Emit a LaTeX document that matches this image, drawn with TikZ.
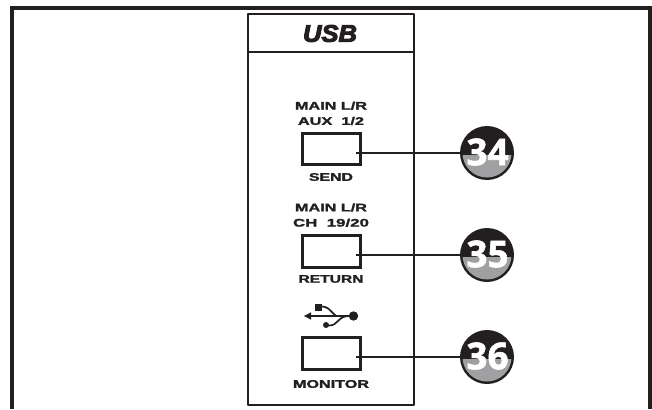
\documentclass[tikz,border=0pt]{standalone}
\usepackage{fontspec}
\setmainfont{Liberation Sans}[BoldFeatures={FakeBold=1.6}]
\newfontfamily\usbfont{Liberation Sans Bold Italic}[FakeBold=4]
\newfontfamily\numfont{Open Sans Bold}[FakeBold=1.5]
\definecolor{ink}{HTML}{231F20}
\definecolor{halfgray}{HTML}{A0A0A2}
\tikzset{
  x=1pt,y=-1pt,
  framepath/.style={draw=ink,line width=3.8pt},
  panelpath/.style={draw=ink,line width=2.2pt,line join=round},
  btn/.style={draw=ink,line width=2.6pt,minimum width=57.5pt,minimum height=31.5pt,inner sep=0pt,rectangle},
  leader/.style={draw=ink,line width=1.8pt},
  lbl/.style={inner sep=0pt,text=ink,font=\fontsize{11}{12}\selectfont\bfseries},
  badge/.style={circle,minimum size=54pt,inner sep=0pt},
  badgetext/.style={inner sep=0pt,text=white,font=\fontsize{37}{37}\selectfont\numfont},
  usbline/.style={draw=ink,line width=1.7pt},
}
\newcommand{\lblw}[2]{\resizebox{#1pt}{\height}{#2}}
\newcommand{\badgeat}[3]{%
  \node[badge,fill=ink] (#1) at (#2) {};
  \begin{scope}
    \clip (#2) circle (24.5);
    \fill[halfgray] ([shift={(-30,2)}]#2) rectangle ([shift={(30,30)}]#2);
  \end{scope}
  \node[badgetext] (#1t) at ([shift={(0.5,-1)}]#2) {#3};
}
\begin{document}
\begin{tikzpicture}
\useasboundingbox (0,0) rectangle (652,409);
\fill[white] (0,0) rectangle (652,409);
% outer frame
\draw[framepath] (12,409) -- (12,8) -- (650.2,8) -- (650.2,409);
% panel
\draw[panelpath] (248,405) -- (248,14) -- (414,14) -- (414,405) -- cycle;
\draw[panelpath] (248,52) -- (414,52);
\node[inner sep=0pt,text=ink] (usb) at (330,33.5) {\fontsize{24}{24}\selectfont\usbfont\resizebox{54pt}{\height}{USB}};
% labels
\node[lbl] (l1a) at (331,105.7) {\lblw{72}{MAIN L/R}};
\node[lbl] (l1b) at (331,121) {\lblw{66}{AUX\ \ 1/2}};
\node[lbl] (l1c) at (331,177) {\lblw{44}{SEND}};
\node[lbl] (l2a) at (331,207.5) {\lblw{72}{MAIN L/R}};
\node[lbl] (l2b) at (331,222.7) {\lblw{76}{CH\ \ 19/20}};
\node[lbl] (l2c) at (331,279) {\lblw{65}{RETURN}};
\node[lbl] (l3c) at (331,384) {\lblw{76}{MONITOR}};
% buttons
\node[btn] (b1) at (331.5,149) {};
\node[btn] (b2) at (331.5,251.5) {};
\node[btn] (b3) at (331.5,353.5) {};
\badgeat{c1}{487,153}{34}
\badgeat{c2}{487,255}{35}
\badgeat{c3}{487,357}{36}
% leaders
\draw[leader] ([xshift=-6]b1.east |- c1) -- (c1.west);
\draw[leader] ([xshift=-6]b2.east |- c2) -- (c2.west);
\draw[leader] ([xshift=-6]b3.east |- c3) -- (c3.west);
% usb symbol
\fill[ink] (353.5,316) circle (4.7);
\draw[usbline] (310,316) -- (353,316);
\fill[ink] (304,316) -- (311,312.3) -- (311,319.7) -- cycle;
\fill[ink] (315,304) rectangle (322,311);
\draw[usbline] (320,306.5) .. controls (329,306.5) and (328,309) .. (336,316);
\fill[ink] (326,325) circle (3);
\draw[usbline] (328,325.5) .. controls (339,326) and (336,317) .. (348,316);
\end{tikzpicture}
\end{document}
